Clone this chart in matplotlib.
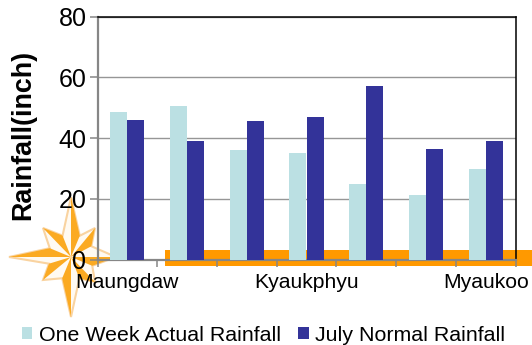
import matplotlib
matplotlib.use('Agg')
import matplotlib.pyplot as plt
from matplotlib.patches import Polygon, Rectangle
import numpy as np

plt.rcParams['font.family'] = ['Liberation Sans', 'DejaVu Sans']

# Rainfall per station, only every third station is labelled
tick_labels = ['Maungdaw', '', '', 'Kyaukphyu', '', '', 'Myaukoo']
actual_rainfall = [48.7, 50.5, 36.0, 35.2, 24.7, 21.3, 29.8]
normal_rainfall = [46.0, 39.0, 45.7, 47.0, 57.2, 36.5, 39.0]

W, H = 532, 345
fig = plt.figure(figsize=(W / 100, H / 100), dpi=100)

# Background layer in pixel coordinates for the banner and the compass star
bg = fig.add_axes([0, 0, 1, 1], zorder=0)
bg.set_xlim(0, W)
bg.set_ylim(H, 0)
bg.axis('off')

orange = '#ff9900'
star_fill = '#fbaa22'
star_edge = '#f9d3a0'
bg.add_patch(Rectangle((165, 250), 367, 16, fc=orange, ec='none'))
bg.add_patch(Rectangle((88, 256), 24, 5, fc=orange, ec='none'))

cx, cy = 71, 257
tips = [(0, -60), (24, -29), (45, 0), (24, 25), (0, 60), (-28, 23), (-62, 0), (-28, -29)]
waist = 23
outline = []
for tx, ty in tips:
    a = np.arctan2(ty, tx) + np.pi / 8
    outline.append((cx + tx, cy + ty))
    outline.append((cx + waist * np.cos(a), cy + waist * np.sin(a)))
bg.add_patch(Polygon(outline, closed=True, fc='#fffaf2', ec=star_edge, lw=1.5))

# Shade one half of every point
n = len(outline)
for i in range(0, n, 2):
    nxt = outline[(i + 1) % n]
    bg.add_patch(Polygon([outline[i], nxt, (cx, cy)], closed=True, fc=star_fill, ec='none'))

# Chart layer
ax = fig.add_axes([97.5 / W, 1 - 259.5 / H, (515.5 - 97.5) / W, (259.5 - 16.5) / H], zorder=1)
ax.patch.set_alpha(0)

x = np.arange(len(tick_labels))
bar_w = 0.285
ax.bar(x - bar_w / 2, actual_rainfall, bar_w, color='#bbe0e3', label='One Week Actual Rainfall', zorder=3)
ax.bar(x + bar_w / 2, normal_rainfall, bar_w, color='#333399', label='July Normal Rainfall', zorder=3)

ax.set_xlim(-0.5, len(tick_labels) - 0.5)
ax.set_ylim(0, 80)
ax.set_yticks([0, 20, 40, 60, 80])
ax.yaxis.grid(True, color='#969696', lw=1.0, zorder=1)
ax.set_axisbelow(True)

ax.set_xticks(np.arange(-0.5, len(tick_labels)))
ax.set_xticklabels([])
ax.set_xticks(x, labels=tick_labels, minor=True)
ax.tick_params(axis='x', which='major', length=5, width=1.1, color='#868686')
ax.tick_params(axis='x', which='minor', length=0, labelsize=15.2, pad=10)
ax.tick_params(axis='y', length=6, width=1.1, color='#868686', labelsize=18, pad=2)

ax.spines['left'].set_color('#868686')
ax.spines['left'].set_linewidth(1.6)
ax.spines['bottom'].set_color('#868686')
ax.spines['bottom'].set_linewidth(1.6)
ax.spines['top'].set_color('black')
ax.spines['top'].set_linewidth(1.1)
ax.spines['right'].set_color('black')
ax.spines['right'].set_linewidth(1.1)

fig.text(23 / W, 1 - 135 / H, 'Rainfall(inch)', rotation=90, fontsize=19.4, fontweight='bold',
         ha='center', va='center')

ax.legend(loc='lower left', bbox_to_anchor=(18.5 / W, -3 / H), bbox_transform=fig.transFigure,
          ncol=2, frameon=False, fontsize=15.4, handlelength=0.5, handleheight=0.5,
          handletextpad=0.3, columnspacing=0.82, borderpad=0.15, borderaxespad=0)

fig.savefig('out.png', dpi=100)
